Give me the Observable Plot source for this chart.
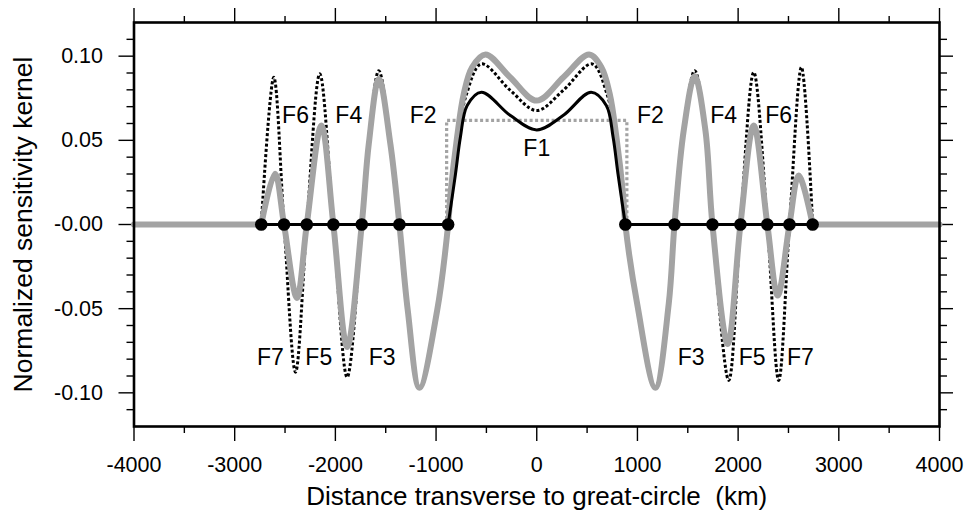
<!DOCTYPE html>
<html><head><meta charset="utf-8">
<script src="https://cdn.jsdelivr.net/npm/d3@7"></script>
<script src="https://cdn.jsdelivr.net/npm/@observablehq/plot@0.6"></script>
<style>
body{margin:0;background:#fff}
#chart svg{font-family:"Liberation Sans",Arial,Helvetica,sans-serif}
</style>
</head><body><div id="chart"></div>
<script>
// Thick gray kernel (oscillating part)
const grayX = [-2736, -2600, -2510, -2382, -2284, -2139, -2020, -1883, -1738, -1668, -1568, -1453, -1364, -1281, -1165, -989, -880, -857, -791, -725, -642, -509, -265, 0, 265, 520, 642, 725, 791, 857, 880, 997, 1178, 1311, 1368, 1460, 1569, 1675, 1745, 1897, 2023, 2155, 2290, 2393, 2510, 2602, 2740];
const grayY = [0, 0.0301, 0, -0.0436, 0, 0.0588, 0, -0.0728, 0, 0.048, 0.0865, 0.0475, 0, -0.051, -0.097, -0.051, 0, 0.018, 0.052, 0.0776, 0.0934, 0.101, 0.0875, 0.0736, 0.0875, 0.101, 0.0934, 0.0776, 0.052, 0.018, 0, -0.047, -0.097, -0.047, 0, 0.056, 0.088, 0.056, 0, -0.071, 0, 0.0588, 0, -0.0422, 0, 0.0291, 0];
// Thick gray kernel (flat tails)
const grayTailLeftX = [-4000, -2736];
const grayTailRightX = [2740, 4000];

// Black dotted kernel
const dotX = [-2736, -2612, -2510, -2396, -2284, -2155, -2020, -1883, -1738, -1668, -1569, -1453, -1364, -1281, -1165, -989, -880, -857, -791, -700, -550, -261, 0, 261, 550, 700, 791, 857, 880, 997, 1178, 1311, 1368, 1460, 1569, 1675, 1745, 1907, 2023, 2155, 2290, 2403, 2510, 2629, 2740];
const dotY = [0, 0.0875, 0, -0.0877, 0, 0.0895, 0, -0.0907, 0, 0.049, 0.0914, 0.0485, 0, -0.051, -0.097, -0.051, 0, 0.018, 0.050, 0.077, 0.0954, 0.0796, 0.0677, 0.0796, 0.0954, 0.077, 0.050, 0.018, 0, -0.047, -0.097, -0.047, 0, 0.057, 0.0914, 0.057, 0, -0.0926, 0, 0.0904, 0, -0.0926, 0, 0.0934, 0];

// Black solid F1
const f1X = [-880, -807, -758, -691, -550, -261, 0, 261, 540, 691, 758, 807, 880];
const f1Y = [0, 0.030, 0.052, 0.0707, 0.0786, 0.0647, 0.0562, 0.0647, 0.0786, 0.0707, 0.052, 0.030, 0];

// Gray dotted boxcar F2
const f2X = [-895, -895, 895, 895];
const f2Y = [0, 0.0618, 0.0618, 0];

// Zero crossings (black dots) and black baseline segments
const zeroX = [-2736, -2510, -2284, -2020, -1738, -1364, -880, 880, 1368, 1745, 2023, 2290, 2510, 2740];
const baseLeftX = [-2736, -880];
const baseRightX = [880, 2740];

// Curve labels
const labelText = ["F6", "F4", "F2", "F7", "F5", "F3", "F1", "F2", "F4", "F6", "F3", "F5", "F7"];
const labelX = [-2396, -1867, -1128, -2645, -2165, -1535, 0, 1129, 1857, 2403, 1533, 2139, 2619];
const labelY = [0.0647, 0.0647, 0.0647, -0.0788, -0.0788, -0.0788, 0.045, 0.0647, 0.0647, 0.0647, -0.0788, -0.0788, -0.0788];

// Axes
const xMajor = [-4000, -3000, -2000, -1000, 0, 1000, 2000, 3000, 4000];
const xMajorLabels = ["-4000", "-3000", "-2000", "-1000", "0", "1000", "2000", "3000", "4000"];
const xMinor = [-3500, -2500, -1500, -500, 500, 1500, 2500, 3500];
const yMajor = [-0.10, -0.05, 0, 0.05, 0.10];
const yMajorLabels = ["-0.10", "-0.05", "-0.00", "0.05", "0.10"];
const yMinor = [-0.11, -0.09, -0.08, -0.07, -0.06, -0.04, -0.03, -0.02, -0.01, 0.01, 0.02, 0.03, 0.04, 0.06, 0.07, 0.08, 0.09, 0.11];
const xTitle = "Distance transverse to great-circle  (km)";
const yTitle = "Normalized sensitivity kernel";

const pts = (xs, ys) => xs.map((x, i) => ({x, y: ys[i]}));
const gray = "#a3a3a3";
const blank = () => "";

const chart = Plot.plot({
  width: 971, height: 524,
  marginLeft: 133.5, marginRight: 32, marginTop: 22, marginBottom: 98,
  x: {domain: [-4000, 4000], label: null},
  y: {domain: [-0.12, 0.12], label: null},
  style: {fontSize: "21px", color: "black", background: "white"},
  marks: [
    Plot.axisX(xMajor, {anchor: "bottom", tickSize: 15, tickPadding: 15, strokeWidth: 1.4, fontSize: 21.5, tickFormat: d => xMajorLabels[xMajor.indexOf(d)], label: null}),
    Plot.axisX(xMinor, {anchor: "bottom", tickSize: 7, strokeWidth: 1.4, tickFormat: blank, label: null}),
    Plot.axisX(xMajor, {anchor: "top", tickSize: 15, strokeWidth: 1.4, tickFormat: blank, label: null}),
    Plot.axisX(xMinor, {anchor: "top", tickSize: 7, strokeWidth: 1.4, tickFormat: blank, label: null}),
    Plot.axisY(yMajor, {anchor: "left", tickSize: 15, tickPadding: 16, strokeWidth: 1.4, fontSize: 21.5, tickFormat: d => yMajorLabels[yMajor.indexOf(d)], label: null}),
    Plot.axisY(yMinor, {anchor: "left", tickSize: 7, strokeWidth: 1.4, tickFormat: blank, label: null}),
    Plot.axisY(yMajor, {anchor: "right", tickSize: 13, strokeWidth: 1.4, tickFormat: blank, label: null}),
    Plot.axisY(yMinor, {anchor: "right", tickSize: 7, strokeWidth: 1.4, tickFormat: blank, label: null}),
    Plot.line(pts(f2X, f2Y), {x: "x", y: "y", stroke: gray, strokeWidth: 3.2, strokeDasharray: "3,2.5", strokeLinecap: "butt", strokeLinejoin: "miter"}),
    Plot.line(pts(dotX, dotY), {x: "x", y: "y", stroke: "black", strokeWidth: 3, strokeDasharray: "3,2.2", strokeLinecap: "butt", curve: "catmull-rom"}),
    Plot.line(pts(grayTailLeftX, [0, 0]), {x: "x", y: "y", stroke: gray, strokeWidth: 6}),
    Plot.line(pts(grayTailRightX, [0, 0]), {x: "x", y: "y", stroke: gray, strokeWidth: 6}),
    Plot.line(pts(grayX, grayY), {x: "x", y: "y", stroke: gray, strokeWidth: 6, curve: "catmull-rom"}),
    Plot.line(pts(f1X, f1Y), {x: "x", y: "y", stroke: "black", strokeWidth: 3, curve: "catmull-rom"}),
    Plot.line(pts(baseLeftX, [0, 0]), {x: "x", y: "y", stroke: "black", strokeWidth: 3}),
    Plot.line(pts(baseRightX, [0, 0]), {x: "x", y: "y", stroke: "black", strokeWidth: 3}),
    Plot.dot(zeroX, {x: d => d, y: () => 0, r: 6.3, fill: "black", stroke: null}),
    Plot.text(labelText.map((t, i) => ({t, x: labelX[i], y: labelY[i]})), {x: "x", y: "y", text: "t", fontSize: 23, fill: "black"}),
    Plot.frame({stroke: "black", strokeWidth: 2.6}),
    Plot.text([xTitle], {frameAnchor: "bottom", dy: 78, fontSize: 26, fill: "black"}),
    Plot.text([yTitle], {frameAnchor: "left", textAnchor: "middle", dx: -110.5, rotate: -90, fontSize: 26.5, fill: "black"})
  ]
});
document.getElementById("chart").appendChild(chart);
</script>
</body></html>
